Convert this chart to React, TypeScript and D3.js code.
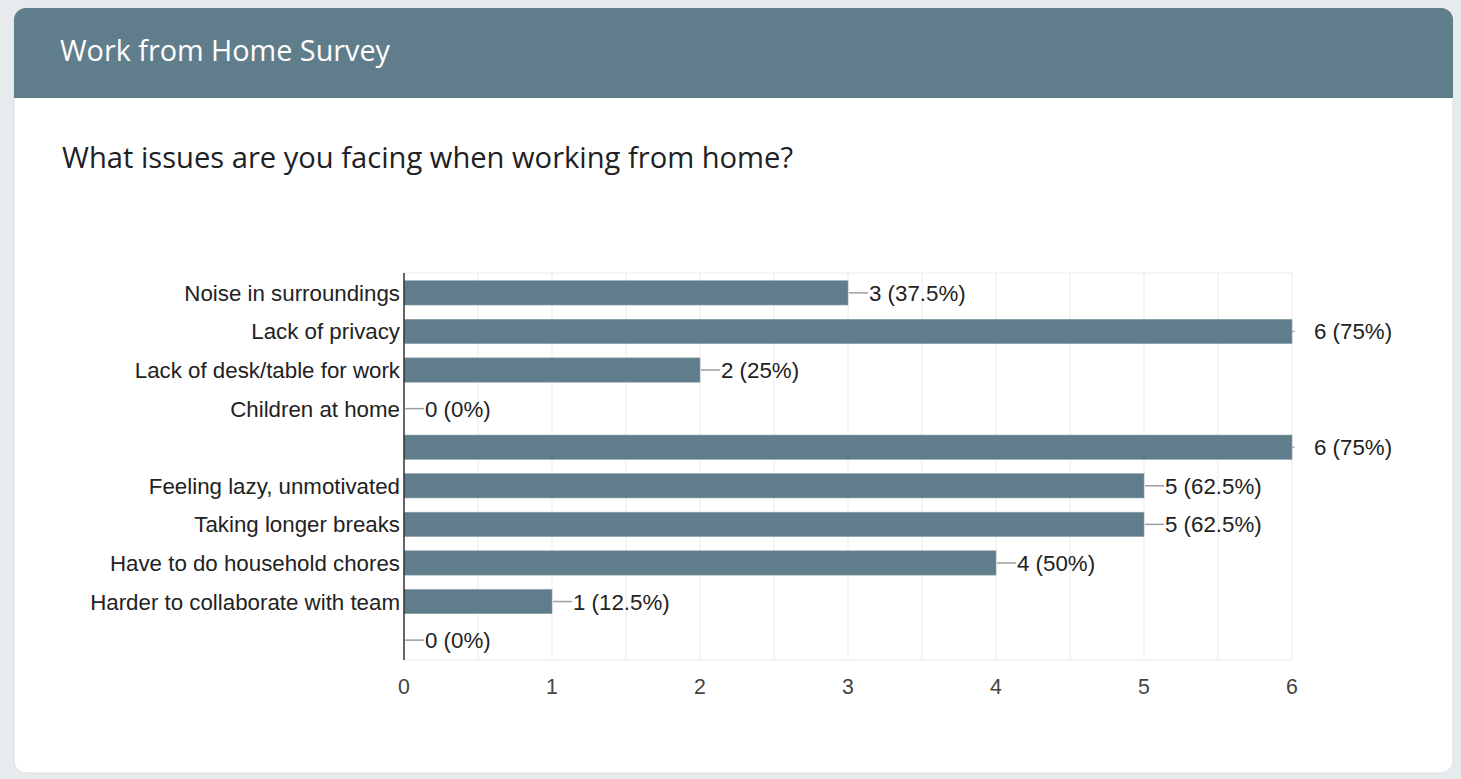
import React from "react";
import * as d3 from "d3";

const categories = [
  "Noise in surroundings",
  "Lack of privacy",
  "Lack of desk/table for work",
  "Children at home",
  "",
  "Feeling lazy, unmotivated",
  "Taking longer breaks",
  "Have to do household chores",
  "Harder to collaborate with team",
  "",
];
const counts = [3, 6, 2, 0, 6, 5, 5, 4, 1, 0];
const percents = ["37.5%", "75%", "25%", "0%", "75%", "62.5%", "62.5%", "50%", "12.5%", "0%"];
const xTicks = [0, 1, 2, 3, 4, 5, 6];
const gridTicks = [0.5, 1, 1.5, 2, 2.5, 3, 3.5, 4, 4.5, 5, 5.5, 6];

const W = 1461;
const H = 779;
const BAR = "#607d8b";

export default function App() {
  const x = d3.scaleLinear().domain([0, 6]).range([404, 1292]);
  const y = d3.scaleBand<number>().domain(d3.range(categories.length)).range([273, 660]).paddingInner(0.37).paddingOuter(0.2);
  const sans = "'Liberation Sans', Arial, sans-serif";
  const fs = 22.3;
  return (
    <svg width={W} height={H} style={{ position: "absolute", left: 0, top: 0, display: "block" }}>
      <rect x={0} y={0} width={W} height={H} fill="#e8ebee" />
      <defs>
        <clipPath id="card">
          <rect x={14} y={8} width={1439} height={765} rx={12} />
        </clipPath>
      </defs>
      <rect x={14} y={8} width={1439} height={765} rx={12} fill="#ffffff" stroke="#dde1e4" />
      <g clipPath="url(#card)">
        <rect x={14} y={8} width={1439} height={90} fill={BAR} />
      </g>
      <text x={60} y={61} fill="#ffffff" fontSize={28.5} fontFamily="'Open Sans', sans-serif" textLength={330} lengthAdjust="spacingAndGlyphs">
        Work from Home Survey
      </text>
      <text x={62} y={168} fill="#202124" fontSize={28.5} fontFamily="'Open Sans', sans-serif" textLength={731} lengthAdjust="spacingAndGlyphs">
        What issues are you facing when working from home?
      </text>
      {gridTicks.map((t) => (
        <line key={t} x1={x(t)} x2={x(t)} y1={273} y2={660} stroke="#ebebeb" strokeWidth={1} />
      ))}
      <line x1={404} x2={1292} y1={273} y2={273} stroke="#ebebeb" />
      <line x1={404} x2={1292} y1={660} y2={660} stroke="#ebebeb" />
      {counts.map((v, i) => {
        const yc = (y(i) as number) + y.bandwidth() / 2;
        const xe = x(v);
        const full = v === 6;
        return (
          <g key={i}>
            {v > 0 && (
              <rect x={x(0)} y={y(i)} width={xe - x(0)} height={y.bandwidth()} fill={BAR} stroke="#8aa0ab" strokeWidth={0.6} />
            )}
            {full ? (
              <>
                <line x1={xe} x2={xe + 3} y1={yc} y2={yc} stroke="#9e9e9e" />
                <text x={xe + 22} y={yc + 8} fontSize={fs} fill="#222" fontFamily={sans}>
                  {`${v} (${percents[i]})`}
                </text>
              </>
            ) : (
              <>
                <line x1={xe + 1} x2={xe + 20} y1={yc} y2={yc} stroke="#9e9e9e" strokeWidth={1.5} />
                <text x={xe + 21} y={yc + 8} fontSize={fs} fill="#222" fontFamily={sans}>
                  {`${v} (${percents[i]})`}
                </text>
              </>
            )}
            <text x={400} y={yc + 8} textAnchor="end" fontSize={fs} fill="#222" fontFamily={sans}>
              {categories[i]}
            </text>
          </g>
        );
      })}
      <line x1={404} x2={404} y1={273} y2={660} stroke="#333" strokeWidth={1.5} />
      {xTicks.map((t) => (
        <text key={t} x={x(t)} y={694} textAnchor="middle" fontSize={fs - 1} fill="#444" fontFamily={sans}>
          {t}
        </text>
      ))}
    </svg>
  );
}
